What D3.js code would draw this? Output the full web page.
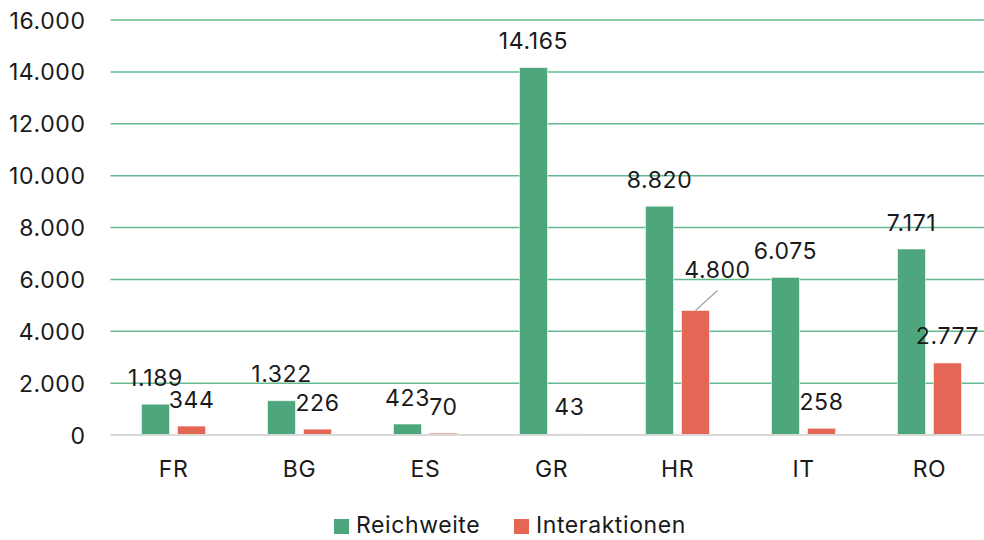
<!DOCTYPE html>
<html>
<head>
<meta charset="utf-8">
<script src="https://cdn.jsdelivr.net/npm/d3@7/dist/d3.min.js"></script>
<style>
  html, body { margin: 0; padding: 0; background: #ffffff; }
  svg { display: block; font-family: Inter, "Liberation Sans", Arial, sans-serif; }
  svg text { letter-spacing: 0.6px; }
</style>
</head>
<body>
<svg id="chart" width="984" height="540"></svg>
<script>
// Countries on the x axis
const categories = ["FR", "BG", "ES", "GR", "HR", "IT", "RO"];
// Series values
const reichweite = [1189, 1322, 423, 14165, 8820, 6075, 7171];
const interaktionen = [344, 226, 70, 43, 4800, 258, 2777];
// Series names for the legend
const seriesNames = ["Reichweite", "Interaktionen"];
// Y axis ticks
const yTicks = [0, 2000, 4000, 6000, 8000, 10000, 12000, 14000, 16000];

const colors = { Reichweite: "#4EA67D", Interaktionen: "#E46655" };
const fmt = v => d3.format(",")(v).replace(/,/g, ".");
const fontSize = 23;
const fontFamily = "Inter, 'Liberation Sans', Arial, sans-serif";

const svg = d3.select("#chart");
const plot = { left: 110.5, right: 992.5, top: 20, bottom: 435 };

const x0 = d3.scaleBand().domain(categories).range([plot.left, plot.right]).paddingInner(0).paddingOuter(0);
const x1 = d3.scaleBand().domain(seriesNames).range([31, 95]).paddingInner(2 - 64 / 36).paddingOuter(0);
const y = d3.scaleLinear().domain([0, 16000]).range([plot.bottom, plot.top]);

// Gridlines
svg.append("g")
  .selectAll("line")
  .data(yTicks.filter(t => t > 0))
  .join("line")
  .attr("x1", plot.left).attr("x2", plot.right)
  .attr("y1", d => y(d)).attr("y2", d => y(d))
  .attr("stroke", "#66BA91").attr("stroke-width", 1.5);

// Y axis labels
const yAxis = d3.axisLeft(y).tickValues(yTicks).tickFormat(fmt).tickSize(0).tickPadding(0);
const gy = svg.append("g").attr("transform", "translate(85.5,0)").call(yAxis);
gy.select(".domain").remove();
gy.selectAll("text").attr("font-size", fontSize).attr("fill", "#1a1a1a").attr("dy", "0.35em")
  .style("font-family", fontFamily);

// Bars
const rows = categories.map((c, i) => ({
  cat: c,
  values: [
    { key: seriesNames[0], value: reichweite[i] },
    { key: seriesNames[1], value: interaktionen[i] }
  ]
}));

const groups = svg.append("g").selectAll("g")
  .data(rows).join("g")
  .attr("transform", d => `translate(${x0(d.cat)},0)`);

groups.selectAll("rect")
  .data(d => d.values)
  .join("rect")
  .attr("x", d => x1(d.key))
  .attr("width", x1.bandwidth())
  .attr("y", d => y(d.value))
  .attr("height", d => y(0) - y(d.value))
  .attr("fill", d => colors[d.key])
  .attr("stroke", "rgba(255,255,255,0.55)")
  .attr("stroke-width", 1);

// Baseline
svg.append("line")
  .attr("x1", plot.left).attr("x2", plot.right)
  .attr("y1", y(0)).attr("y2", y(0))
  .attr("stroke", "#d9d9d9").attr("stroke-width", 2);

// Data labels; HR interactions label is pulled aside with a leader line
const labelShift = { "HR|Interaktionen": { dx: 22, dy: -14 } };
groups.each(function (row) {
  const g = d3.select(this);
  row.values.forEach(v => {
    const cx = x1(v.key) + x1.bandwidth() / 2;
    const top = y(v.value);
    const s = labelShift[row.cat + "|" + v.key] || { dx: 0, dy: 0 };
    const lx = cx + s.dx, ly = top - 18.5 + s.dy;
    if (s.dx || s.dy) {
      g.append("line")
        .attr("x1", cx).attr("y1", top)
        .attr("x2", cx + s.dx).attr("y2", top + s.dy - 6)
        .attr("stroke", "#a6a6a6").attr("stroke-width", 1.3);
    }
    g.append("text")
      .attr("x", lx).attr("y", ly)
      .attr("text-anchor", "middle")
      .attr("font-size", fontSize).attr("fill", "#1a1a1a")
      .text(fmt(v.value));
  });
});

// X axis labels
const xAxis = d3.axisBottom(x0).tickSize(0).tickPadding(0);
const gx = svg.append("g").attr("transform", `translate(0,${y(0)})`).call(xAxis);
gx.select(".domain").remove();
gx.selectAll("text").attr("font-size", fontSize).attr("fill", "#1a1a1a")
  .attr("dy", 0).attr("y", 42)
  .style("font-family", fontFamily);

// Legend
const legend = svg.append("g");
const legendX = [334, 514];
seriesNames.forEach((name, i) => {
  const lg = legend.append("g").attr("transform", `translate(${legendX[i]},0)`);
  lg.append("rect").attr("x", 0).attr("y", 519).attr("width", 15).attr("height", 15)
    .attr("fill", colors[name]);
  lg.append("text").attr("x", 22).attr("y", 533)
    .attr("font-size", fontSize).attr("fill", "#1a1a1a").text(name);
});
</script>
</body>
</html>
